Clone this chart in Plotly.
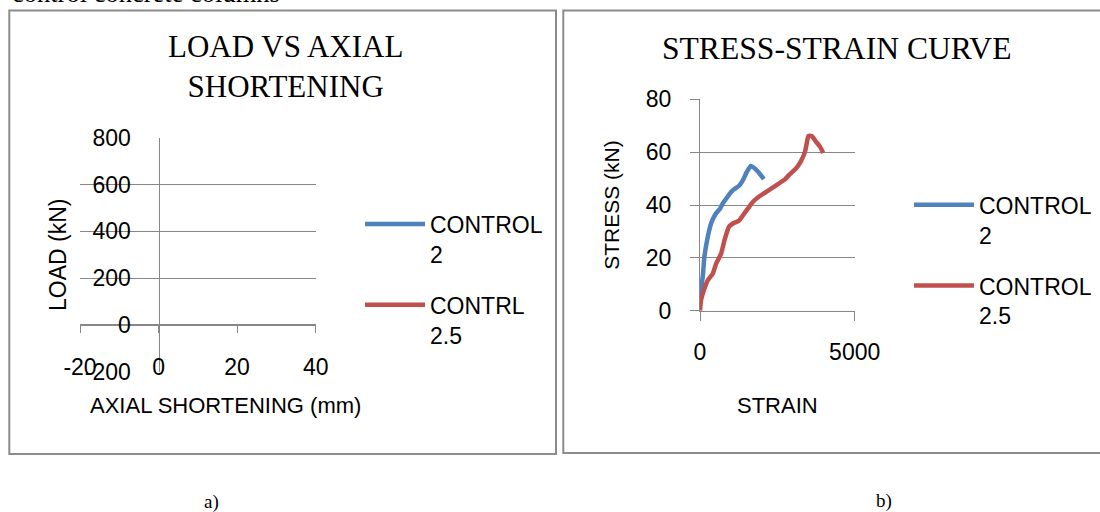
import plotly.graph_objects as go

W, H = 1100, 512

# ---------------- data ----------------
# Panel a) LOAD VS AXIAL SHORTENING (no points are visible in the reference)
load_x_ticks = [-20, 0, 20, 40]
load_x_ticktext = ["-20", "0", "20", "40"]
load_y_ticks = [-200, 0, 200, 400, 600, 800]
load_y_ticktext = ["-200", "0", "200", "400", "600", "800"]
control2_shortening = [None]
control2_load = [None]
contrl25_shortening = [None]
contrl25_load = [None]

# Panel b) STRESS-STRAIN CURVE
strain_ticks = [0, 5000]
stress_ticks = [0, 20, 40, 60, 80]
strain_control2 = [0, 90, 141, 250, 358, 499, 651, 737, 900, 1063, 1280, 1388,
                   1518, 1638, 1735, 1876, 2065]
stress_control2 = [5, 13, 20.3, 27.9, 33, 36.5, 38.7, 40.6, 43.3, 45.6, 47.5,
                   49.4, 52.6, 54.8, 54.2, 52.6, 49.8]
strain_control25 = [0, 33, 141, 250, 412, 521, 683, 792, 933, 1063, 1258, 1388,
                    1551, 1714, 1931, 2202, 2473, 2744, 2907, 3102, 3254, 3395,
                    3449, 3503, 3612, 3753, 3883, 3980]
stress_control25 = [0, 3.9, 8.3, 11.5, 14, 17.8, 21.6, 26.7, 31.7, 33, 34, 36.1,
                    38.7, 41.2, 43.4, 45.4, 47.5, 49.7, 51.7, 53.8, 56.4, 60.2,
                    63.3, 66.1, 66.1, 63.9, 62, 59.7]

# ---------------- styling ----------------
BLUE = "#4F81BD"
RED = "#C0504D"
GRID = "#878787"
SANS = "Liberation Sans, Arial, sans-serif"
SERIF = "Liberation Serif, Times New Roman, serif"


def px(x):
    return x / W


def py(y):
    return 1 - y / H


fig = go.Figure()

fig.add_trace(go.Scatter(x=control2_shortening, y=control2_load, name="CONTROL<br>2",
                         mode="lines", line=dict(color=BLUE, width=4.5),
                         xaxis="x", yaxis="y", legend="legend", legendgroup="a1"))
fig.add_trace(go.Scatter(x=contrl25_shortening, y=contrl25_load, name="CONTRL<br>2.5",
                         mode="lines", line=dict(color=RED, width=4.5),
                         xaxis="x", yaxis="y", legend="legend", legendgroup="a2"))
fig.add_trace(go.Scatter(x=strain_control2, y=stress_control2, name="CONTROL<br>2",
                         mode="lines", line=dict(color=BLUE, width=4.5, shape="spline", smoothing=0.4),
                         xaxis="x2", yaxis="y2", legend="legend2", legendgroup="b1"))
fig.add_trace(go.Scatter(x=strain_control25, y=stress_control25, name="CONTROL<br>2.5",
                         mode="lines", line=dict(color=RED, width=4.5, shape="spline", smoothing=0.4),
                         xaxis="x2", yaxis="y2", legend="legend2", legendgroup="b2"))

xd = [px(80), px(315.7)]
yd = [py(371.7), py(137.7)]
x2d = [px(700), px(854.7)]
y2d = [py(310.7), py(99.3)]

tickfont = dict(family=SANS, size=23, color="black")
titlefont = dict(family=SANS, size=22, color="black")
legendfont = dict(family=SANS, size=23, color="black")

fig.update_layout(
    width=W, height=H,
    margin=dict(l=0, r=0, t=0, b=0, autoexpand=False),
    paper_bgcolor="white", plot_bgcolor="white",
    xaxis=dict(domain=xd, range=[-20, 40], anchor="free",
               position=yd[0] + (0 - (-200)) / 1000 * (yd[1] - yd[0]),
               tickvals=load_x_ticks, ticktext=load_x_ticktext,
               showgrid=False, zeroline=False, showline=True, linecolor=GRID, linewidth=1.3,
               ticks="outside", ticklen=7, tickcolor=GRID, tickwidth=1.3,
               tickfont=tickfont, ticklabelstandoff=14),
    yaxis=dict(domain=yd, range=[-200, 800], anchor="free",
               position=xd[0] + (0 - (-20)) / 60 * (xd[1] - xd[0]),
               tickvals=load_y_ticks, ticktext=load_y_ticktext,
               showgrid=True, gridcolor=GRID, gridwidth=1.3, zeroline=False,
               showline=True, linecolor=GRID, linewidth=1.3, ticks="",
               tickfont=tickfont, ticklabelstandoff=23,
               title=dict(text="LOAD (kN)", font=dict(family=SANS, size=23, color="black"),
                          standoff=10)),
    xaxis2=dict(domain=x2d, range=[0, 5000], anchor="y2",
                tickvals=strain_ticks, showgrid=False, zeroline=False,
                showline=True, linecolor=GRID, linewidth=1.3,
                ticks="outside", ticklen=9, tickcolor=GRID, tickwidth=1.3,
                tickfont=tickfont, ticklabelstandoff=12,
                title=dict(text="STRAIN", font=titlefont, standoff=33)),
    yaxis2=dict(domain=y2d, range=[0, 80], anchor="x2",
                tickvals=stress_ticks, showgrid=True, gridcolor=GRID, gridwidth=1.3,
                zeroline=False, showline=True, linecolor=GRID, linewidth=1.3,
                ticks="outside", ticklen=9, tickcolor=GRID, tickwidth=1.3,
                tickfont=tickfont, ticklabelstandoff=14,
                title=dict(text="STRESS (kN)", font=dict(family=SANS, size=21, color="black"),
                           standoff=20)),
    legend=dict(x=px(360), y=py(202.5), xanchor="left", yanchor="top",
                font=legendfont, itemwidth=60, valign="top", tracegroupgap=18,
                bgcolor="rgba(0,0,0,0)"),
    legend2=dict(x=px(909), y=py(183.3), xanchor="left", yanchor="top",
                 font=legendfont, itemwidth=60, valign="top", tracegroupgap=18,
                 bgcolor="rgba(0,0,0,0)"),
    shapes=[
        dict(type="rect", xref="paper", yref="paper",
             x0=px(9.3), x1=px(556), y0=py(454), y1=py(10.5),
             line=dict(color="#8C8C8C", width=2)),
        dict(type="rect", xref="paper", yref="paper",
             x0=px(563.3), x1=px(1110), y0=py(453), y1=py(10.5),
             line=dict(color="#8C8C8C", width=2)),
    ],
    annotations=[
        dict(text="LOAD VS AXIAL<br>SHORTENING", xref="paper", yref="paper",
             x=px(285.5), y=py(66), xanchor="center", yanchor="middle", showarrow=False,
             font=dict(family=SERIF, size=31, color="black")),
        dict(text="STRESS-STRAIN CURVE", xref="paper", yref="paper",
             x=px(836), y=py(48.3), xanchor="center", yanchor="middle", showarrow=False,
             font=dict(family=SERIF, size=31.6, color="black")),
        dict(text="AXIAL SHORTENING (mm)", xref="paper", yref="paper",
             x=px(225.3), y=py(405), xanchor="center", yanchor="middle", showarrow=False,
             font=titlefont),
        dict(text="control concrete columns", xref="paper", yref="paper",
             x=px(10), y=py(10.5), xanchor="left", yanchor="bottom", showarrow=False,
             font=dict(family=SERIF, size=26.5, color="black")),
        dict(text="a)", xref="paper", yref="paper",
             x=px(211.7), y=py(501.7), xanchor="center", yanchor="middle", showarrow=False,
             font=dict(family=SERIF, size=19, color="black")),
        dict(text="b)", xref="paper", yref="paper",
             x=px(884), y=py(501), xanchor="center", yanchor="middle", showarrow=False,
             font=dict(family=SERIF, size=19, color="black")),
    ],
    showlegend=True,
)

fig.write_html("out.html", config={"displayModeBar": False},
               post_script="document.body.style.margin='0';")
